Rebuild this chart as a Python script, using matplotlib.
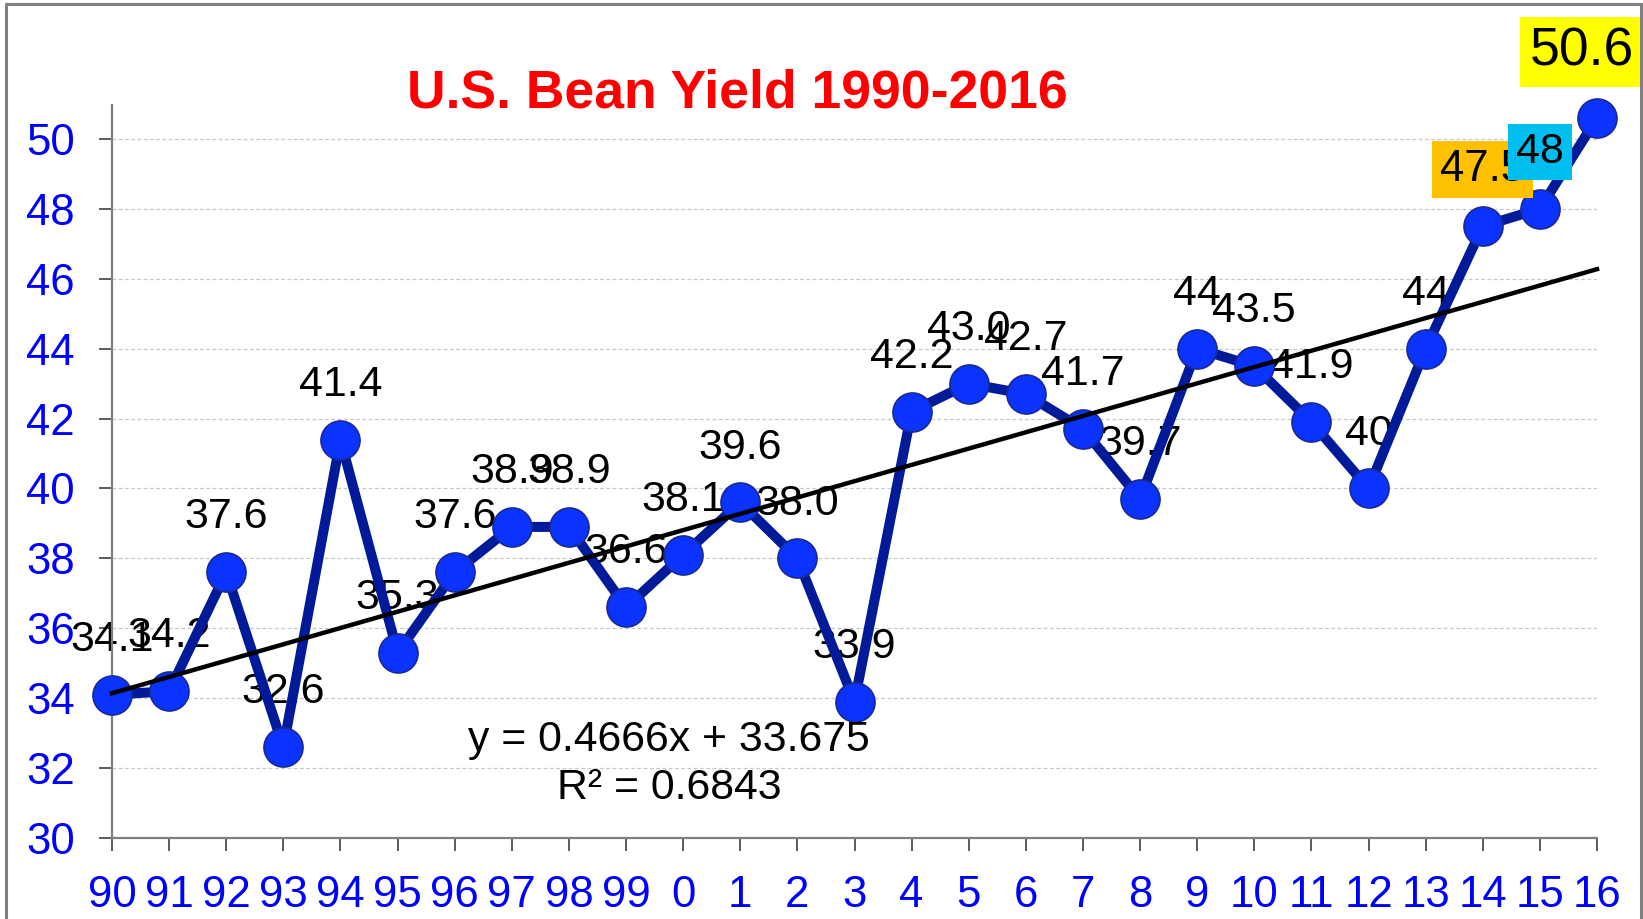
import matplotlib
matplotlib.use("Agg")
import matplotlib.pyplot as plt
from matplotlib.patches import Rectangle
import numpy as np

plt.rcParams['font.family'] = ['Liberation Sans', 'DejaVu Sans']

years = ["90", "91", "92", "93", "94", "95", "96", "97", "98", "99", "0", "1", "2",
         "3", "4", "5", "6", "7", "8", "9", "10", "11", "12", "13", "14", "15", "16"]
yields = [34.1, 34.2, 37.6, 32.6, 41.4, 35.3, 37.6, 38.9, 38.9, 36.6, 38.1, 39.6, 38.0,
          33.9, 42.2, 43.0, 42.7, 41.7, 39.7, 44.0, 43.5, 41.9, 40.0, 44.0, 47.5, 48.0, 50.6]
labels = ["34.1", "34.2", "37.6", "32.6", "41.4", "35.3", "37.6", "38.9", "38.9", "36.6",
          "38.1", "39.6", "38.0", "33.9", "42.2", "43.0", "42.7", "41.7", "39.7", "44",
          "43.5", "41.9", "40", "44", "47.5", "48", "50.6"]
slope = 0.4666
intercept = 33.675
r2 = 0.6843
yticks = [30, 32, 34, 36, 38, 40, 42, 44, 46, 48, 50]
title = "U.S. Bean Yield 1990-2016"

W, H = 1643, 919
fig = plt.figure(figsize=(W / 100, H / 100), dpi=100)
fig.patch.set_facecolor('white')

ax = fig.add_axes([112 / W, 81 / H, (1597 - 112) / W, (838 - 105) / H])
x = np.arange(len(years))

# grid
ax.set_axisbelow(True)
ax.yaxis.grid(True, color='#c8c8c8', linestyle=(0, (3, 2)), linewidth=0.9)

# series
ax.plot(x, yields, color='#001a99', linewidth=7.2, zorder=3, clip_on=False,
        solid_joinstyle='round', solid_capstyle='round')
ax.plot(x, yields, linestyle='none', marker='o', markersize=28,
        markerfacecolor='#0a33ff', markeredgecolor='#1a2a99', markeredgewidth=1.3,
        zorder=4, clip_on=False)

# trend line
xt = np.array([x[0], x[-1]])
ax.plot(xt, slope * (xt + 1) + intercept, color='black', linewidth=3.2, zorder=5,
        clip_on=False)

# data labels
special = {24: ('#ffc000', 31.5, (0, 41)), 25: ('#00bff0', 31, (0, 41)),
           26: ('#ffff00', 38.5, (-11, 47.5))}
for i, (xi, yi, lab) in enumerate(zip(x, yields, labels)):
    if i in special:
        col, fs, off = special[i]
        ax.annotate(lab, (xi, yi), xytext=off, textcoords='offset points',
                    ha='center', va='center', fontsize=fs, color='black',
                    bbox=dict(boxstyle='square,pad=0.18', fc=col, ec='none'),
                    zorder=10 + i, annotation_clip=False)
    else:
        ax.annotate(lab, (xi, yi), xytext=(0, 39.5), textcoords='offset points',
                    ha='center', va='center', fontsize=31, color='black',
                    zorder=2, annotation_clip=False)

# equation
ax.text(669, H - 740, f"y = {slope}x + {intercept}", transform=None,
        ha='center', va='center', fontsize=30.8, color='black', zorder=6)
ax.text(669, H - 788, f"R² = {r2}", transform=None,
        ha='center', va='center', fontsize=30.8, color='black', zorder=6)

ax.set_xlim(0, 26)
ax.set_ylim(30, 50.97)
ax.set_xticks(x)
ax.set_xticklabels(years)
ax.set_yticks(yticks)

for s in ['top', 'right']:
    ax.spines[s].set_visible(False)
for s in ['left', 'bottom']:
    ax.spines[s].set_color('#7f7f7f')
    ax.spines[s].set_linewidth(1.6)

ax.tick_params(axis='x', direction='out', length=9.4, width=1.2, color='#404040',
               labelsize=31.5, labelcolor='#0000ff', pad=17)
ax.tick_params(axis='y', direction='out', length=9.4, width=1.2, color='#404040',
               labelsize=31.5, labelcolor='#0000ff', pad=17.5)

fig.text(737 / W, 1 - 94 / H, title, ha='center', va='center', fontsize=38.5,
         fontweight='bold', color='#ff0000')

# chart border
fig.add_artist(Rectangle((6 / W, -0.02), (1641 - 6) / W, 1 - 4 / H + 0.02,
                         transform=fig.transFigure, fill=False, edgecolor='#808080',
                         linewidth=2.2, zorder=20))

fig.savefig('out.png', dpi=100, facecolor='white')
